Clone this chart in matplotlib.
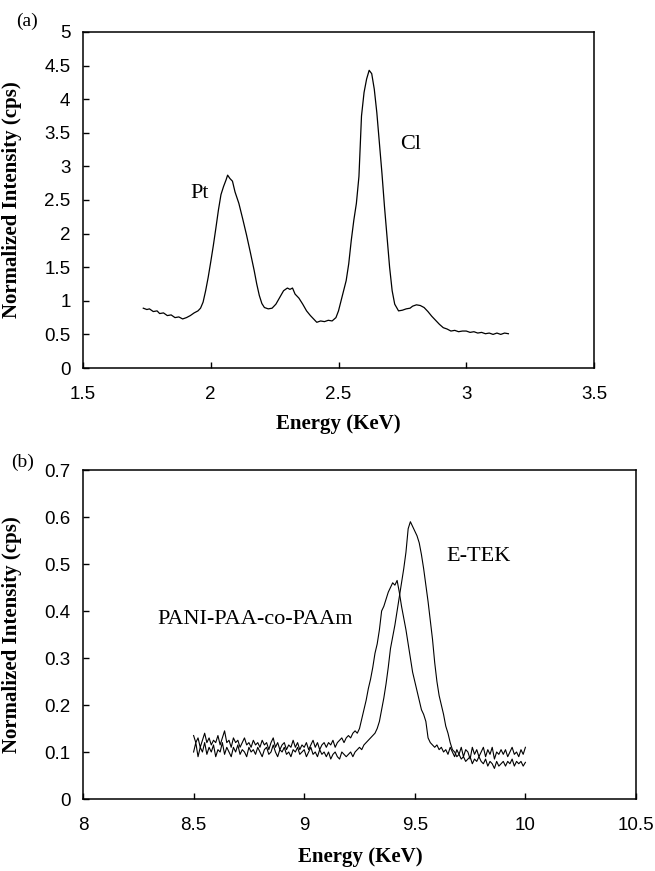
import matplotlib
matplotlib.use("Agg")
import matplotlib.pyplot as plt
import numpy as np

# panel (a): Pt / Cl EDX spectrum
energy_a = [1.736, 1.75, 1.76, 1.775, 1.79, 1.80, 1.815, 1.83, 1.845, 1.86,
            1.875, 1.89, 1.905, 1.92, 1.935, 1.95, 1.96, 1.97, 1.98, 1.99,
            2.00, 2.01, 2.02, 2.03, 2.04, 2.05, 2.06, 2.066, 2.075, 2.085,
            2.095, 2.11, 2.125, 2.14, 2.155, 2.17, 2.18, 2.19, 2.20, 2.21,
            2.225, 2.24, 2.255, 2.27, 2.285, 2.30, 2.31, 2.32, 2.33, 2.345,
            2.36, 2.375, 2.39, 2.405, 2.415, 2.43, 2.445, 2.46, 2.475, 2.49,
            2.50, 2.51, 2.52, 2.53, 2.54, 2.55, 2.56, 2.57, 2.58, 2.585,
            2.59, 2.60, 2.61, 2.62, 2.63, 2.64, 2.65, 2.66, 2.67, 2.68,
            2.69, 2.70, 2.71, 2.72, 2.735, 2.75, 2.765, 2.78, 2.79, 2.805,
            2.82, 2.835, 2.85, 2.865, 2.88, 2.895, 2.91, 2.925, 2.94, 2.955,
            2.97, 2.985, 3.00, 3.015, 3.03, 3.045, 3.06, 3.075, 3.09, 3.105,
            3.12, 3.135, 3.15, 3.165]
intensity_a = [0.89, 0.87, 0.88, 0.84, 0.85, 0.81, 0.82, 0.78, 0.79, 0.75,
               0.76, 0.73, 0.75, 0.78, 0.82, 0.85, 0.89, 0.98, 1.15, 1.35,
               1.58, 1.82, 2.08, 2.35, 2.58, 2.70, 2.80, 2.87, 2.82, 2.78,
               2.62, 2.45, 2.22, 1.98, 1.72, 1.45, 1.25, 1.08, 0.96, 0.90,
               0.88, 0.89, 0.95, 1.05, 1.15, 1.19, 1.17, 1.19, 1.10, 1.04,
               0.95, 0.85, 0.78, 0.72, 0.68, 0.70, 0.69, 0.71, 0.70, 0.75,
               0.85, 1.00, 1.15, 1.30, 1.55, 1.90, 2.20, 2.45, 2.85, 3.30,
               3.75, 4.10, 4.30, 4.43, 4.38, 4.15, 3.80, 3.35, 2.90, 2.40,
               1.95, 1.50, 1.15, 0.95, 0.85, 0.86, 0.88, 0.89, 0.92, 0.94,
               0.93, 0.90, 0.84, 0.77, 0.71, 0.65, 0.60, 0.58, 0.55, 0.56,
               0.54, 0.55, 0.55, 0.53, 0.54, 0.52, 0.53, 0.51, 0.52, 0.50,
               0.52, 0.50, 0.52, 0.51]

# panel (b): Pt L-line region, two catalysts, 0.01 KeV channels from 8.50 to 10.00
energy_b = np.round(np.arange(8.50, 10.005, 0.01), 2)
etek = [0.10, 0.12, 0.09, 0.11, 0.10, 0.12, 0.095, 0.11, 0.10, 0.115,
        0.09, 0.105, 0.10, 0.12, 0.095, 0.11, 0.10, 0.09, 0.11, 0.10,
        0.115, 0.095, 0.105, 0.10, 0.09, 0.11, 0.10, 0.105, 0.095, 0.11,
        0.10, 0.09, 0.105, 0.11, 0.095, 0.10, 0.115, 0.10, 0.09, 0.105,
        0.10, 0.11, 0.095, 0.10, 0.09, 0.105, 0.10, 0.11, 0.095, 0.10,
        0.105, 0.09, 0.10, 0.11, 0.095, 0.10, 0.09, 0.105, 0.095, 0.10,
        0.09, 0.10, 0.085, 0.095, 0.10, 0.09, 0.085, 0.10, 0.095, 0.09,
        0.095, 0.10, 0.09, 0.10, 0.105, 0.11, 0.105, 0.115, 0.12, 0.125,
        0.13, 0.135, 0.14, 0.15, 0.165, 0.19, 0.215, 0.245, 0.28, 0.32,
        0.345, 0.37, 0.40, 0.43, 0.46, 0.49, 0.525, 0.575, 0.59, 0.58,
        0.57, 0.56, 0.545, 0.52, 0.49, 0.455, 0.42, 0.38, 0.34, 0.29,
        0.25, 0.22, 0.20, 0.18, 0.155, 0.14, 0.12, 0.105, 0.10, 0.09,
        0.095, 0.085, 0.09, 0.08, 0.085, 0.09, 0.075, 0.085, 0.08, 0.09,
        0.08, 0.075, 0.085, 0.07, 0.08, 0.075, 0.065, 0.08, 0.07, 0.075,
        0.08, 0.07, 0.08, 0.075, 0.085, 0.07, 0.08, 0.075, 0.08, 0.07, 0.078]
pani = [0.135, 0.12, 0.13, 0.11, 0.125, 0.14, 0.12, 0.13, 0.115, 0.125,
        0.12, 0.135, 0.115, 0.13, 0.145, 0.12, 0.125, 0.11, 0.13, 0.12,
        0.125, 0.11, 0.12, 0.13, 0.115, 0.12, 0.11, 0.125, 0.115, 0.12,
        0.11, 0.125, 0.115, 0.12, 0.105, 0.12, 0.13, 0.11, 0.12, 0.105,
        0.115, 0.12, 0.105, 0.115, 0.11, 0.125, 0.11, 0.12, 0.105, 0.115,
        0.11, 0.12, 0.105, 0.115, 0.125, 0.11, 0.12, 0.105, 0.115, 0.12,
        0.11, 0.12, 0.115, 0.125, 0.11, 0.12, 0.125, 0.13, 0.12, 0.13,
        0.135, 0.13, 0.14, 0.145, 0.14, 0.15, 0.17, 0.19, 0.21, 0.235,
        0.255, 0.28, 0.31, 0.33, 0.36, 0.40, 0.41, 0.425, 0.44, 0.45,
        0.46, 0.455, 0.465, 0.44, 0.41, 0.385, 0.36, 0.33, 0.30, 0.27,
        0.25, 0.23, 0.21, 0.19, 0.18, 0.165, 0.13, 0.12, 0.115, 0.11,
        0.115, 0.105, 0.11, 0.10, 0.105, 0.095, 0.11, 0.10, 0.09, 0.105,
        0.095, 0.11, 0.09, 0.105, 0.10, 0.085, 0.11, 0.095, 0.105, 0.09,
        0.10, 0.11, 0.09, 0.105, 0.095, 0.11, 0.085, 0.10, 0.095, 0.105,
        0.095, 0.105, 0.09, 0.10, 0.11, 0.095, 0.10, 0.09, 0.105, 0.095, 0.11]

SERIF = ["Liberation Serif", "DejaVu Serif"]
SANS = ["Liberation Sans", "DejaVu Sans"]


def style_axes(ax):
    for s in ax.spines.values():
        s.set_linewidth(1.1)
    ax.tick_params(direction="in", length=4, width=1.0, labelsize=13.5,
                   top=False, right=False)
    ax.tick_params(axis="y", pad=9)
    ax.tick_params(axis="x", pad=13)
    for lab in ax.get_xticklabels() + ax.get_yticklabels():
        lab.set_family(SANS)


fig = plt.figure(figsize=(6.55, 8.71), dpi=100)
W, H = 655, 871

# (a)
ax1 = fig.add_axes([83 / W, 1 - 368 / H, (594 - 83) / W, (368 - 32) / H])
ax1.plot(energy_a, intensity_a, color="black", lw=0.9)
ax1.set_xlim(1.5, 3.5)
ax1.set_ylim(0, 5)
ax1.set_xticks([1.5, 2, 2.5, 3, 3.5])
ax1.set_xticklabels(["1.5", "2", "2.5", "3", "3.5"])
ax1.set_yticks(np.arange(0, 5.01, 0.5))
ax1.set_yticklabels(["0", "0.5", "1", "1.5", "2", "2.5", "3", "3.5", "4", "4.5", "5"])
style_axes(ax1)
ax1.set_ylabel("Normalized Intensity (cps)", family=SERIF, fontweight="bold", fontsize=15)
ax1.yaxis.set_label_coords(-61 / 511, 0.5)
ax1.text(1.958, 2.60, "Pt", family=SERIF, fontsize=16, ha="center", va="center")
ax1.text(2.784, 3.32, "Cl", family=SERIF, fontsize=16, ha="center", va="center")

# (b)
ax2 = fig.add_axes([83 / W, 1 - 799 / H, (636 - 83) / W, (799 - 470) / H])
ax2.plot(energy_b, pani, color="black", lw=0.8)
ax2.plot(energy_b, etek, color="black", lw=0.8)
ax2.set_xlim(8, 10.5)
ax2.set_ylim(0, 0.7)
ax2.set_xticks([8, 8.5, 9, 9.5, 10, 10.5])
ax2.set_xticklabels(["8", "8.5", "9", "9.5", "10", "10.5"])
ax2.set_yticks(np.arange(0, 0.701, 0.1))
ax2.set_yticklabels(["0", "0.1", "0.2", "0.3", "0.4", "0.5", "0.6", "0.7"])
style_axes(ax2)
ax2.set_ylabel("Normalized Intensity (cps)", family=SERIF, fontweight="bold", fontsize=15)
ax2.yaxis.set_label_coords(-61 / 553, 0.5)
ax2.text(9.79, 0.515, "E-TEK", family=SERIF, fontsize=16, ha="center", va="center")
ax2.text(8.778, 0.381, "PANI-PAA-co-PAAm", family=SERIF, fontsize=16,
         ha="center", va="center")

fig.text(338 / W, 1 - 424 / H, "Energy (KeV)", family=SERIF, fontweight="bold",
         fontsize=15, ha="center", va="center")
fig.text(360 / W, 1 - 857 / H, "Energy (KeV)", family=SERIF, fontweight="bold",
         fontsize=15, ha="center", va="center")
fig.text(27 / W, 1 - 21 / H, "(a)", family=SERIF, fontsize=14, ha="center", va="center")
fig.text(23 / W, 1 - 462 / H, "(b)", family=SERIF, fontsize=14, ha="center", va="center")

fig.savefig("out.png", dpi=100)
